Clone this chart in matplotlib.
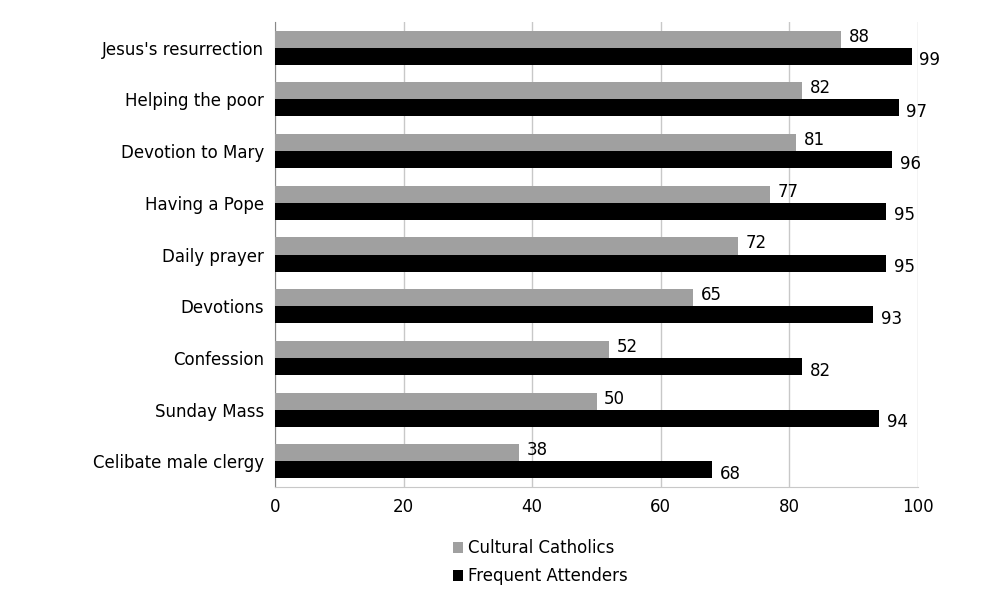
import matplotlib
matplotlib.use("Agg")
import matplotlib.pyplot as plt
import numpy as np

categories = ["Jesus's resurrection", "Helping the poor", "Devotion to Mary", "Having a Pope",
              "Daily prayer", "Devotions", "Confession", "Sunday Mass", "Celibate male clergy"]
cultural = [88, 82, 81, 77, 72, 65, 52, 50, 38]
frequent = [99, 97, 96, 95, 95, 93, 82, 94, 68]
xticks = [0, 20, 40, 60, 80, 100]

fig = plt.figure(figsize=(10, 6.06), dpi=100)
ax = fig.add_axes([0.275, 0.196, 0.643, 0.768])
n = len(categories)
y = np.arange(n)[::-1]
h = 0.33
ax.barh(y + h/2, cultural, height=h, color="#a0a0a0", label="Cultural Catholics", zorder=3)
ax.barh(y - h/2, frequent, height=h, color="#000000", label="Frequent Attenders", zorder=3)
for yi, c, f in zip(y, cultural, frequent):
    ax.text(c + 1.2, yi + h/2 + 0.05, str(c), va="center", ha="left", fontsize=12)
    ax.text(f + 1.2, yi - h/2 - 0.08, str(f), va="center", ha="left", fontsize=12)
ax.set_xlim(0, 100)
ax.set_ylim(-0.5, n - 0.5)
ax.set_xticks(xticks)
ax.set_xticklabels([str(t) for t in xticks], fontsize=12)
ax.set_yticks(y)
ax.set_yticklabels(categories, fontsize=12)
ax.tick_params(length=0, pad=8)
ax.xaxis.grid(True, color="#c8c8c8", linewidth=1, zorder=0)
for s in ["top", "right"]:
    ax.spines[s].set_visible(False)
ax.spines["left"].set_color("#888888")
ax.spines["bottom"].set_color("#c8c8c8")
fig.legend(loc="upper center", bbox_to_anchor=(0.54, 0.135), frameon=False, fontsize=12,
           handlelength=0.6, handleheight=0.6, handletextpad=0.3, labelspacing=0.6, ncol=1)
fig.savefig("out.png", dpi=100)
